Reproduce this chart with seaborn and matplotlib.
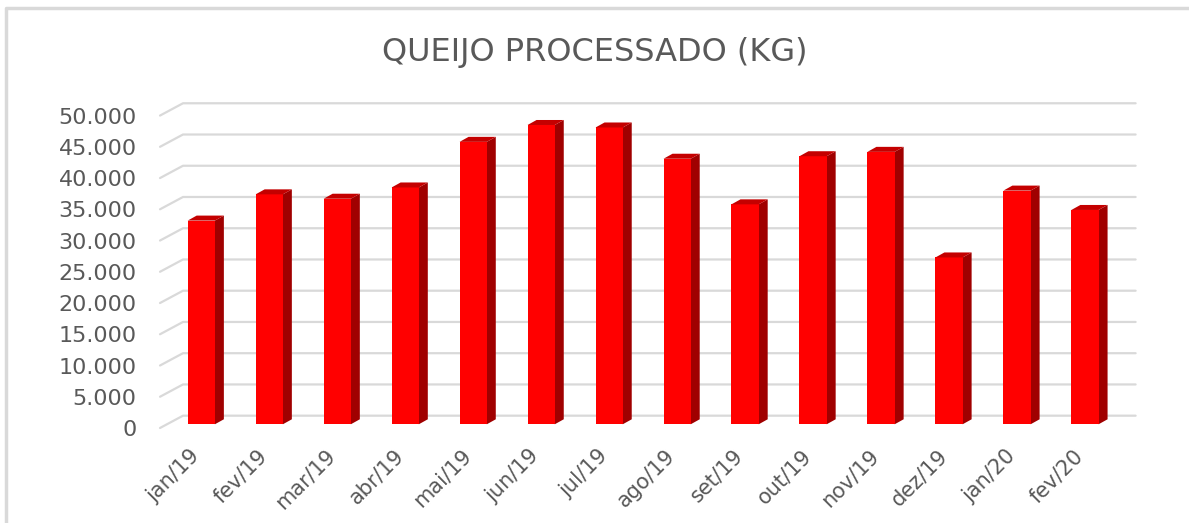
import numpy as np
import pandas as pd
import seaborn as sns
import matplotlib.pyplot as plt
from matplotlib.patches import Polygon
from matplotlib.lines import Line2D
from matplotlib.transforms import ScaledTranslation

meses = ["jan/19", "fev/19", "mar/19", "abr/19", "mai/19", "jun/19", "jul/19",
         "ago/19", "set/19", "out/19", "nov/19", "dez/19", "jan/20", "fev/20"]
queijo_kg = [32600, 36800, 36100, 37900, 45200, 47900, 47500,
             42500, 35200, 42900, 43600, 26700, 37400, 34300]
y_ticks = list(range(0, 50001, 5000))
y_labels = ["0" if v == 0 else f"{v // 1000}.000" for v in y_ticks]

cinza = "#595959"
grade = "#D9D9D9"
frente = "#FF0000"
lado = "#A00000"
topo = "#C40000"

sns.set_theme(style="white")
plt.rcParams["font.family"] = ["DejaVu Sans"]

fig = plt.figure(figsize=(11.89, 5.23), dpi=100)
ax = fig.add_axes([0.1407, 0.1768, 0.8004, 0.6332])

df = pd.DataFrame({"mes": meses, "kg": queijo_kg})
sns.barplot(data=df, x="mes", y="kg", color=frente, width=0.4,
            saturation=1, ax=ax, zorder=3)

ax.set_xlim(-0.5, 13.5)
ax.set_ylim(-1000, 52000)

# profundidade 3D (em unidades de dados)
px_x = 68.0
px_y = 0.006248
prof_x, prof_y = 9 / px_x, 5 / px_y
fundo_x, fundo_y = 15.2 / px_x, 8.6 / px_y
frente_x, frente_y = -6.5 / px_x, -3.7 / px_y
esq_fundo = -0.269
esq_frente = -0.607
dir_fundo = 13.745

# grade na parede do fundo + diagonais do piso
for v in y_ticks:
    ax.add_line(Line2D([esq_frente, esq_fundo, dir_fundo],
                       [v + frente_y, v + fundo_y, v + fundo_y],
                       color=grade, lw=1.6, zorder=1, clip_on=False))

# faces lateral e superior das barras
for p in ax.patches:
    x0 = p.get_x()
    x1 = x0 + p.get_width()
    h = p.get_height()
    p.set_edgecolor("none")
    ax.add_patch(Polygon([(x1, 0), (x1 + prof_x, prof_y), (x1 + prof_x, h + prof_y), (x1, h)],
                         closed=True, facecolor=lado, edgecolor="none", zorder=2))
    ax.add_patch(Polygon([(x0, h), (x0 + prof_x, h + prof_y), (x1 + prof_x, h + prof_y), (x1, h)],
                         closed=True, facecolor=topo, edgecolor="none", zorder=4))

ax.set_yticks([v + frente_y for v in y_ticks])
ax.set_yticklabels(y_labels)
ax.tick_params(axis="y", length=0, pad=22, labelsize=16, labelcolor=cinza)
ax.tick_params(axis="x", length=0, pad=16, labelsize=15, labelcolor=cinza)
desloc = ScaledTranslation(-5 / 100, 0, fig.dpi_scale_trans)
for lbl in ax.get_xticklabels():
    lbl.set_rotation(45)
    lbl.set_ha("right")
    lbl.set_va("center")
    lbl.set_rotation_mode("anchor")
    lbl.set_transform(lbl.get_transform() + desloc)

ax.set_xlabel("")
ax.set_ylabel("")
for s in ax.spines.values():
    s.set_visible(False)
ax.set_facecolor("none")

fig.text(0.5, 0.9, "QUEIJO PROCESSADO (KG)", ha="center", va="center",
         fontsize=23, color=cinza)

# borda do gráfico
fig.add_artist(Line2D([6 / 1189, 6 / 1189, 1.0], [0.0, 1 - 8 / 523, 1 - 8 / 523],
                      transform=fig.transFigure, color=grade, lw=2.5))

fig.savefig("out.png", dpi=100)
